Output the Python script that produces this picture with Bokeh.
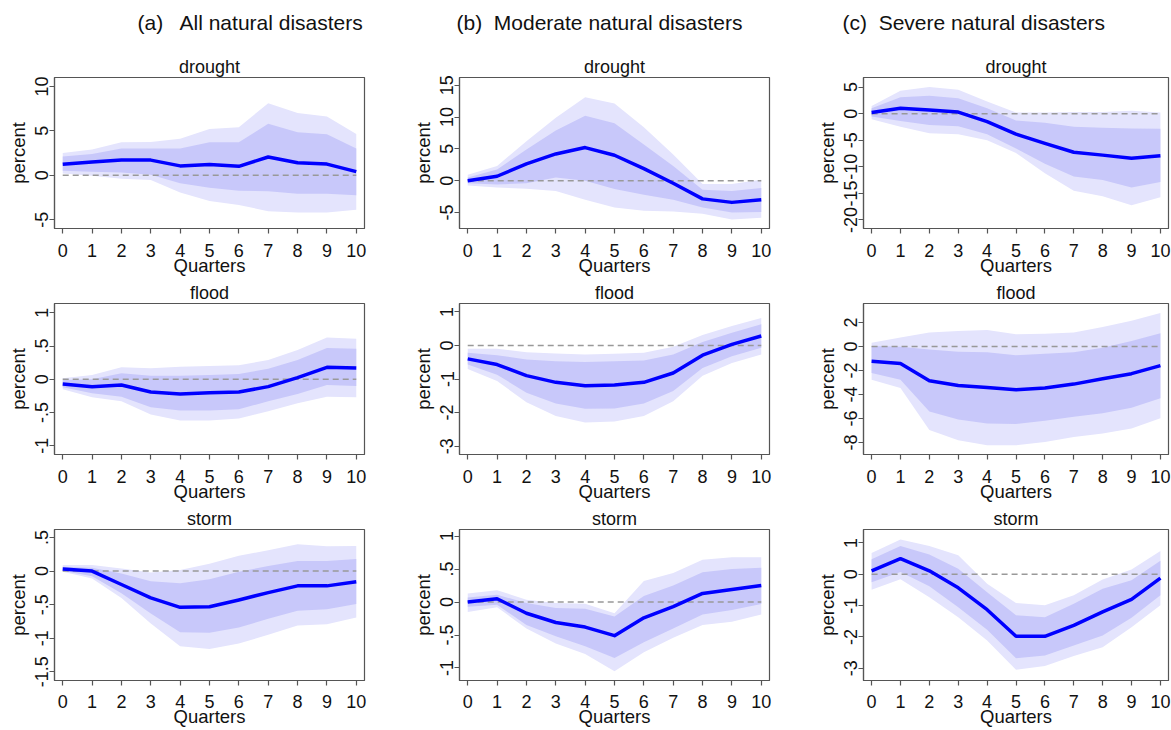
from bokeh.plotting import figure
from bokeh.layouts import column, row
from bokeh.models import FixedTicker, Range1d, Label
from bokeh.embed import file_html
from bokeh.resources import INLINE

quarters = list(range(11))

# ---------- (a) All natural disasters ----------
a_drought_mean = [1.23, 1.5, 1.7, 1.7, 1.05, 1.2, 1.0, 2.05, 1.4, 1.25, 0.4]
a_drought_in_hi = [2.1, 2.4, 3.0, 3.0, 3.0, 3.7, 3.7, 5.8, 4.85, 4.6, 3.0]
a_drought_in_lo = [0.5, 0.4, 0.3, 0.05, -0.9, -1.4, -1.75, -1.8, -2.1, -2.1, -2.25]
a_drought_out_hi = [2.5, 2.9, 3.7, 3.75, 4.1, 5.2, 5.4, 8.1, 7.0, 6.6, 4.65]
a_drought_out_lo = [0.2, -0.07, -0.4, -0.55, -1.95, -2.9, -3.35, -4.05, -4.2, -4.2, -3.9]

a_flood_mean = [-0.07, -0.11, -0.085, -0.19, -0.22, -0.2, -0.19, -0.11, 0.025, 0.18, 0.17]
a_flood_in_hi = [-0.01, 0.0, 0.09, 0.055, 0.055, 0.065, 0.08, 0.16, 0.29, 0.47, 0.46]
a_flood_in_lo = [-0.12, -0.21, -0.26, -0.42, -0.47, -0.47, -0.45, -0.33, -0.22, -0.085, -0.1]
a_flood_out_hi = [0.015, 0.065, 0.18, 0.165, 0.19, 0.2, 0.21, 0.29, 0.44, 0.63, 0.61]
a_flood_out_lo = [-0.15, -0.27, -0.33, -0.53, -0.62, -0.62, -0.59, -0.48, -0.36, -0.26, -0.27]

a_storm_mean = [0.03, 0.0, -0.2, -0.4, -0.54, -0.53, -0.43, -0.32, -0.22, -0.22, -0.16]
a_storm_in_hi = [0.065, 0.05, -0.035, -0.15, -0.18, -0.12, -0.01, 0.075, 0.15, 0.15, 0.18]
a_storm_in_lo = [0.005, -0.075, -0.33, -0.63, -0.91, -0.92, -0.84, -0.71, -0.59, -0.57, -0.49]
a_storm_out_hi = [0.09, 0.09, 0.04, -0.02, 0.015, 0.11, 0.23, 0.31, 0.4, 0.37, 0.375]
a_storm_out_lo = [-0.01, -0.11, -0.4, -0.78, -1.12, -1.16, -1.08, -0.95, -0.81, -0.79, -0.69]

# ---------- (b) Moderate natural disasters ----------
b_drought_mean = [0.0, 0.7, 2.65, 4.2, 5.2, 4.0, 1.9, -0.4, -2.85, -3.4, -3.0]
b_drought_in_hi = [0.5, 1.75, 4.9, 7.9, 10.2, 9.0, 5.7, 2.3, -1.4, -1.6, -1.15]
b_drought_in_lo = [-0.4, -0.6, -0.4, 0.5, 0.0, -1.3, -2.2, -3.0, -4.2, -5.0, -4.9]
b_drought_out_hi = [0.95, 2.3, 6.2, 9.9, 13.1, 12.1, 8.4, 4.1, -0.5, -0.5, 0.15]
b_drought_out_lo = [-0.75, -1.05, -1.25, -1.6, -3.0, -4.2, -4.7, -4.85, -5.2, -6.1, -5.8]

b_flood_mean = [-0.4, -0.57, -0.9, -1.1, -1.2, -1.18, -1.1, -0.82, -0.29, 0.03, 0.28]
b_flood_in_hi = [-0.22, -0.29, -0.42, -0.47, -0.49, -0.47, -0.45, -0.27, 0.1, 0.38, 0.63]
b_flood_in_lo = [-0.57, -0.87, -1.41, -1.73, -1.89, -1.88, -1.73, -1.36, -0.67, -0.32, -0.07]
b_flood_out_hi = [-0.1, -0.1, -0.2, -0.24, -0.27, -0.25, -0.22, -0.04, 0.31, 0.58, 0.82]
b_flood_out_lo = [-0.7, -1.06, -1.69, -2.1, -2.3, -2.27, -2.1, -1.66, -0.9, -0.52, -0.27]

b_storm_mean = [0.0, 0.05, -0.17, -0.31, -0.38, -0.51, -0.24, -0.07, 0.13, 0.19, 0.25]
b_storm_in_hi = [0.07, 0.11, -0.015, -0.09, -0.1, -0.22, 0.09, 0.25, 0.45, 0.5, 0.52]
b_storm_in_lo = [-0.07, -0.04, -0.35, -0.52, -0.67, -0.85, -0.61, -0.4, -0.19, -0.12, -0.03]
b_storm_out_hi = [0.13, 0.18, 0.035, -0.015, -0.025, -0.17, 0.32, 0.44, 0.64, 0.68, 0.68]
b_storm_out_lo = [-0.15, -0.08, -0.4, -0.63, -0.79, -1.05, -0.76, -0.54, -0.35, -0.3, -0.19]

# ---------- (c) Severe natural disasters ----------
c_drought_mean = [0.2, 1.0, 0.7, 0.3, -1.5, -3.85, -5.6, -7.25, -7.8, -8.4, -7.9]
c_drought_in_hi = [1.0, 3.1, 3.35, 2.9, 1.0, -1.3, -1.7, -2.45, -2.65, -2.8, -2.85]
c_drought_in_lo = [-0.55, -1.4, -2.15, -2.35, -3.85, -6.55, -9.4, -11.8, -12.5, -13.9, -12.85]
c_drought_out_hi = [1.45, 4.3, 5.0, 4.5, 2.3, 0.2, 0.2, 0.3, 0.3, 0.55, 0.2]
c_drought_out_lo = [-1.05, -2.45, -3.7, -3.85, -5.0, -7.4, -11.2, -14.5, -15.55, -17.25, -15.7]

c_flood_mean = [-1.23, -1.43, -2.86, -3.25, -3.42, -3.61, -3.47, -3.14, -2.69, -2.27, -1.6]
c_flood_in_hi = [0.03, -0.03, -0.25, -0.45, -0.48, -0.73, -0.62, -0.48, -0.11, 0.45, 1.09]
c_flood_in_lo = [-2.21, -2.77, -5.43, -6.08, -6.41, -6.47, -6.19, -5.85, -5.57, -5.1, -4.31]
c_flood_out_hi = [0.31, 0.73, 1.15, 1.29, 1.37, 1.01, 1.06, 1.15, 1.62, 2.13, 2.77]
c_flood_out_lo = [-2.77, -3.47, -6.97, -7.82, -8.24, -8.24, -7.96, -7.54, -7.26, -6.83, -5.99]

c_storm_mean = [0.11, 0.5, 0.11, -0.43, -1.13, -1.98, -1.98, -1.63, -1.2, -0.8, -0.12]
c_storm_in_hi = [0.48, 0.9, 0.63, 0.18, -0.57, -1.31, -1.37, -0.94, -0.46, -0.19, 0.43]
c_storm_in_lo = [-0.25, 0.07, -0.38, -1.05, -1.77, -2.68, -2.59, -2.27, -1.95, -1.39, -0.67]
c_storm_out_hi = [0.68, 1.11, 0.9, 0.61, -0.3, -0.92, -0.99, -0.67, -0.17, 0.15, 0.74]
c_storm_out_lo = [-0.49, -0.16, -0.73, -1.37, -2.11, -3.05, -2.93, -2.61, -2.33, -1.69, -0.99]

# tick values of each panel's y axis
a_drought_ticks = [-5, 0, 5, 10]
a_flood_ticks = [-1, -0.5, 0, 0.5, 1]
a_storm_ticks = [-1.5, -1, -0.5, 0, 0.5]
b_drought_ticks = [-5, 0, 5, 10, 15]
b_flood_ticks = [-3, -2, -1, 0, 1]
b_storm_ticks = [-1, -0.5, 0, 0.5, 1]
c_drought_ticks = [-20, -15, -10, -5, 0, 5]
c_flood_ticks = [-8, -6, -4, -2, 0, 2]
c_storm_ticks = [-3, -2, -1, 0, 1]

# column headings (the wide gap after the letter is kept with no-break spaces)
column_titles = ["(a)\u00a0\u00a0 All natural disasters",
                 "(b)\u00a0 Moderate natural disasters",
                 "(c)\u00a0 Severe natural disasters"]
row_titles = ["drought", "flood", "storm"]

# ---------- layout / style (not data) ----------
FONT = "Liberation Sans"
OUTER = "#e4e4fd"
INNER = "#c8c8fa"
LINE = "#0000ff"
FRAME = "#555555"
TXT = "#111111"
FH = 151
TOP = 24
HEADER_H = 53
# per row: (min_border_bottom, tick label standoff, axis label standoff)
row_bottom = [(51, 10, -5), (51, 10, -5), (50, 9, -5)]
col_geom = [  # (min_border_left, frame_width, min_border_right)
    (54, 310, 45),
    (48, 310, 44),
    (47, 305, 8),
]
y_limits = [
    [(-6.0, 11.0), (-1.13, 1.14), (-1.63, 0.62)],
    [(-7.5, 16.2), (-3.25, 1.25), (-1.19, 1.1)],
    [(-21.6, 6.8), (-9.0, 3.57), (-3.39, 1.43)],
]
header_x = [137, 456, 842]

series = [
    [
        (a_drought_mean, a_drought_in_lo, a_drought_in_hi, a_drought_out_lo, a_drought_out_hi, a_drought_ticks),
        (a_flood_mean, a_flood_in_lo, a_flood_in_hi, a_flood_out_lo, a_flood_out_hi, a_flood_ticks),
        (a_storm_mean, a_storm_in_lo, a_storm_in_hi, a_storm_out_lo, a_storm_out_hi, a_storm_ticks),
    ],
    [
        (b_drought_mean, b_drought_in_lo, b_drought_in_hi, b_drought_out_lo, b_drought_out_hi, b_drought_ticks),
        (b_flood_mean, b_flood_in_lo, b_flood_in_hi, b_flood_out_lo, b_flood_out_hi, b_flood_ticks),
        (b_storm_mean, b_storm_in_lo, b_storm_in_hi, b_storm_out_lo, b_storm_out_hi, b_storm_ticks),
    ],
    [
        (c_drought_mean, c_drought_in_lo, c_drought_in_hi, c_drought_out_lo, c_drought_out_hi, c_drought_ticks),
        (c_flood_mean, c_flood_in_lo, c_flood_in_hi, c_flood_out_lo, c_flood_out_hi, c_flood_ticks),
        (c_storm_mean, c_storm_in_lo, c_storm_in_hi, c_storm_out_lo, c_storm_out_hi, c_storm_ticks),
    ],
]


def stata_label(v):
    if float(v).is_integer():
        return str(int(v))
    s = ("%g" % v)
    return s.replace("0.", ".")


def make_panel(ci, ri):
    mean, in_lo, in_hi, out_lo, out_hi, ticks = series[ci][ri]
    bl, fw, br = col_geom[ci]
    bb, xs, xls = row_bottom[ri]
    p = figure(frame_width=fw, frame_height=FH,
               x_range=Range1d(-0.28, 10.28), y_range=Range1d(*y_limits[ci][ri]),
               toolbar_location=None, output_backend="svg",
               min_border_left=bl, min_border_right=br,
               min_border_top=TOP, min_border_bottom=bb,
               background_fill_color="white", border_fill_color="white",
               title=row_titles[ri])
    p.title.align = "center"
    p.title.text_font = FONT
    p.title.text_font_size = "18px"
    p.title.text_font_style = "normal"
    p.title.text_color = TXT
    p.title.standoff = 2

    p.varea(x=quarters, y1=out_lo, y2=out_hi, fill_color=OUTER, fill_alpha=1)
    p.varea(x=quarters, y1=in_lo, y2=in_hi, fill_color=INNER, fill_alpha=1)
    p.segment(x0=quarters[0], x1=quarters[-1], y0=0, y1=0,
              line_color="#999999", line_width=1.5, line_dash="6 4")
    p.line(x=quarters, y=mean, line_color=LINE, line_width=3.5, line_join="round")

    p.xgrid.visible = False
    p.ygrid.visible = False
    p.outline_line_color = FRAME
    p.outline_line_width = 1.2

    for ax in (p.xaxis[0], p.yaxis[0]):
        ax.axis_line_color = FRAME
        ax.axis_line_width = 1.2
        ax.major_tick_line_color = FRAME
        ax.major_tick_line_width = 1.2
        ax.major_tick_out = 5
        ax.major_tick_in = 0
        ax.minor_tick_line_color = None
        ax.major_label_text_font = FONT
        ax.major_label_text_font_size = "18px"
        ax.major_label_text_color = TXT
        ax.axis_label_text_font = FONT
        ax.axis_label_text_font_size = "18.5px"
        ax.axis_label_text_font_style = "normal"
        ax.axis_label_text_color = TXT

    p.xaxis.major_label_standoff = xs
    p.xaxis.axis_label_standoff = xls
    p.yaxis.major_label_standoff = 1
    p.yaxis.axis_label_standoff = 4

    p.xaxis.ticker = FixedTicker(ticks=quarters)
    p.xaxis.axis_label = "Quarters"
    p.yaxis.ticker = FixedTicker(ticks=ticks)
    p.yaxis.major_label_overrides = {t: stata_label(t) for t in ticks}
    p.yaxis.major_label_orientation = "vertical"
    p.yaxis.axis_label = "percent"
    return p


total_w = sum(g[0] + g[1] + g[2] for g in col_geom)
header = figure(width=total_w, height=HEADER_H, toolbar_location=None, output_backend="svg",
                x_range=Range1d(0, total_w), y_range=Range1d(0, HEADER_H),
                min_border=0, border_fill_color="white", background_fill_color="white")
header.axis.visible = False
header.grid.visible = False
header.outline_line_color = None
for txt, hx in zip(column_titles, header_x):
    header.add_layout(Label(x=hx, y=HEADER_H - 22, text=txt, text_font=FONT,
                            text_font_size="21px", text_baseline="middle",
                            text_align="left", text_color=TXT))

rows = []
for ri in range(3):
    rows.append(row(*[make_panel(ci, ri) for ci in range(3)], spacing=0))

layout = column(header, *rows, spacing=0)
open("out.html", "w").write(file_html(layout, INLINE))
